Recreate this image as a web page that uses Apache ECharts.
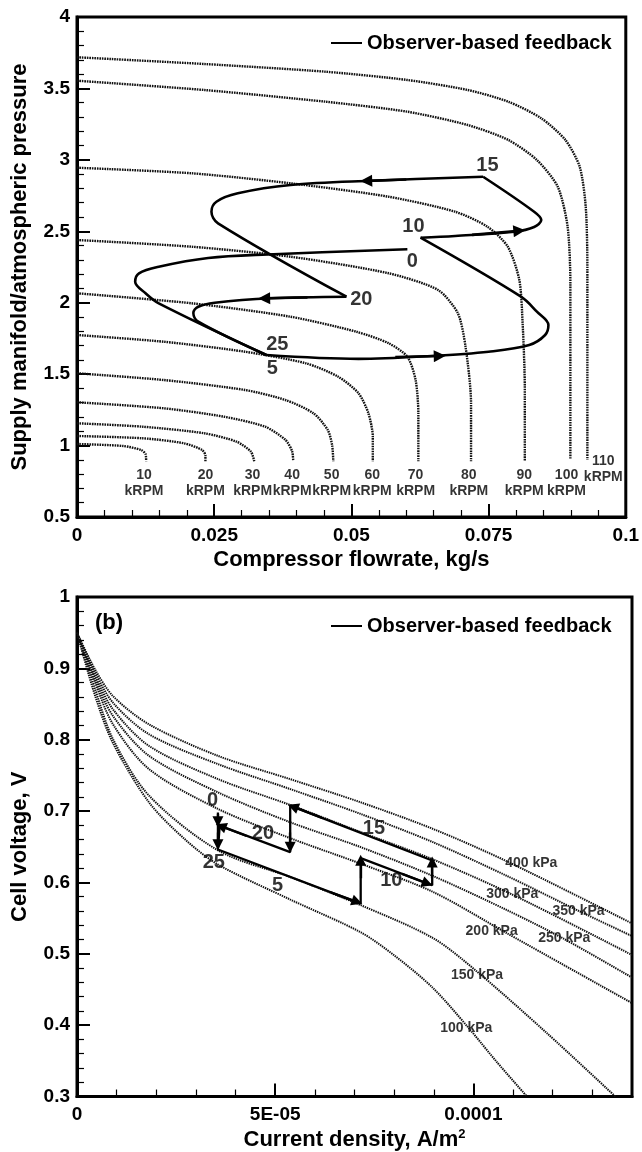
<!DOCTYPE html>
<html>
<head>
<meta charset="utf-8">
<title>Compressor map / polarization curves</title>
<script src="https://cdn.jsdelivr.net/npm/echarts/dist/echarts.min.js"></script>
<style>
  html, body { margin: 0; padding: 0; background: #fff; }
  #main { width: 642px; height: 1152px; }
</style>
</head>
<body>
<div id="main"></div>
<script>
// ---------- (a) compressor map ----------
// speed lines, kRPM
const speeds = [10, 20, 30, 40, 50, 60, 70, 80, 90, 100, 110];
// flow (kg/s) and pressure ratio
const speedFlow = [
  [0, 0.0084, 0.0117, 0.0125, 0.0126],
  [0, 0.012, 0.0195, 0.0228, 0.0234, 0.0234],
  [0, 0.012, 0.0232, 0.0291, 0.0317, 0.0323],
  [0, 0.0158, 0.0268, 0.0343, 0.038, 0.0392, 0.0394],
  [0, 0.0158, 0.0306, 0.038, 0.0431, 0.0457, 0.0465, 0.0467],
  [0, 0.0158, 0.0306, 0.0417, 0.0476, 0.0513, 0.0531, 0.0539, 0.0539],
  [0, 0.0209, 0.0389, 0.0509, 0.0568, 0.0602, 0.0617, 0.0622, 0.0622],
  [0, 0.0209, 0.0389, 0.0568, 0.0658, 0.0694, 0.0708, 0.0718, 0.0718],
  [0, 0.0209, 0.0389, 0.0568, 0.0689, 0.0748, 0.0785, 0.0806, 0.0812, 0.0816, 0.0816],
  [0, 0.0232, 0.0453, 0.0602, 0.0712, 0.0786, 0.0838, 0.0876, 0.0894, 0.0899, 0.0899],
  [0, 0.0232, 0.0453, 0.0602, 0.0712, 0.0786, 0.0846, 0.089, 0.0916, 0.0927, 0.093, 0.093]
];
const speedPressure = [
  [1.011, 0.997, 0.969, 0.94, 0.89],
  [1.067, 1.051, 1.016, 0.969, 0.93, 0.89],
  [1.156, 1.132, 1.086, 1.027, 0.957, 0.89],
  [1.303, 1.261, 1.202, 1.132, 1.039, 0.96, 0.89],
  [1.506, 1.459, 1.389, 1.319, 1.226, 1.109, 1.0, 0.89],
  [1.774, 1.727, 1.657, 1.576, 1.482, 1.366, 1.226, 1.062, 0.89],
  [2.066, 1.996, 1.902, 1.797, 1.716, 1.622, 1.459, 1.226, 0.89],
  [2.439, 2.392, 2.322, 2.206, 2.089, 1.926, 1.692, 1.3, 0.89],
  [2.945, 2.906, 2.836, 2.742, 2.637, 2.532, 2.392, 2.159, 1.856, 1.4, 0.89],
  [3.554, 3.489, 3.407, 3.337, 3.244, 3.139, 2.999, 2.812, 2.532, 2.137, 0.9],
  [3.718, 3.671, 3.617, 3.559, 3.489, 3.407, 3.291, 3.139, 2.952, 2.672, 2.252, 0.9]
];
const speedLabelFlow = [0.0122, 0.0234, 0.032, 0.0392, 0.0464, 0.0538, 0.0617, 0.0714, 0.0815, 0.0892, 0.0959];
const speedLabelPressure = [0.738, 0.738, 0.738, 0.738, 0.738, 0.738, 0.738, 0.738, 0.738, 0.738, 0.836];

// observer-based feedback trajectory, split at the time marks (s)
const trajAFlow = [
  [0.0602, 0.0347, 0.0239, 0.0149, 0.0113, 0.0106, 0.0125, 0.0149, 0.0345],
  [0.0345, 0.0513, 0.0646, 0.075, 0.0824, 0.0853, 0.0859, 0.0838, 0.0809, 0.0626],
  [0.0626, 0.0689, 0.0797, 0.0833, 0.0846, 0.0833, 0.074],
  [0.074, 0.0539, 0.0389, 0.0293, 0.0254, 0.0245, 0.0257, 0.0491],
  [0.0491, 0.0353, 0.0251, 0.0221, 0.0212, 0.0221, 0.0345]
];
const trajAPressure = [
  [2.374, 2.338, 2.313, 2.252, 2.206, 2.147, 2.066, 1.996, 1.634],
  [1.634, 1.607, 1.627, 1.657, 1.704, 1.774, 1.844, 1.937, 2.042, 2.455],
  [2.455, 2.467, 2.497, 2.53, 2.579, 2.637, 2.882],
  [2.882, 2.854, 2.824, 2.766, 2.707, 2.637, 2.556, 2.042],
  [2.042, 2.031, 2.0, 1.972, 1.928, 1.867, 1.634]
];
// arrow heads: [tailFlow, tailPressure, tipFlow, tipPressure]
const arrowsA = [
  [0.0600, 2.862, 0.0527, 2.853],
  [0.0420, 2.037, 0.0341, 2.031],
  [0.0580, 1.620, 0.0661, 1.627],
  [0.0720, 2.475, 0.0806, 2.504]
];
const timeLabelsA = ['0', '5', '10', '15', '20', '25'];
const timeLabelAFlow = [0.0611, 0.0356, 0.0613, 0.0748, 0.0518, 0.0365];
const timeLabelAPressure = [2.287, 1.543, 2.537, 2.964, 2.026, 1.711];

// ---------- (b) polarization curves ----------
// current density in units of 1e-5 A/m^2
const pressures = [100, 150, 200, 250, 300, 350, 400];
const curveCurrent = [
  [0, 0.46, 0.91, 1.82, 2.73, 3.56, 5.38, 7.16, 8.02, 8.98, 9.85, 10.58, 11.35],
  [0, 0.46, 0.91, 1.82, 3.56, 5.38, 7.16, 8.98, 10.07, 11.85, 13.58],
  [0, 0.46, 0.91, 1.82, 3.56, 5.38, 7.16, 8.98, 10.85, 14],
  [0, 0.46, 0.91, 1.82, 3.56, 5.38, 7.16, 8.98, 10.85, 12.26, 14],
  [0, 0.46, 0.91, 1.82, 3.56, 5.38, 7.16, 8.98, 10.98, 14],
  [0, 0.46, 0.91, 1.82, 3.56, 5.38, 7.16, 8.98, 10.85, 12.67, 14],
  [0, 0.46, 0.91, 1.82, 3.56, 5.38, 7.16, 8.98, 10.85, 14]
];
const curveVoltage = [
  [0.95, 0.861, 0.795, 0.712, 0.66, 0.625, 0.576, 0.53, 0.497, 0.452, 0.398, 0.349, 0.3],
  [0.95, 0.8703, 0.8005, 0.7215, 0.6448, 0.6076, 0.5681, 0.522, 0.476, 0.389, 0.3],
  [0.95, 0.8796, 0.8214, 0.7587, 0.7029, 0.662, 0.6262, 0.5867, 0.5286, 0.4309],
  [0.95, 0.8842, 0.8331, 0.7773, 0.7261, 0.6843, 0.6494, 0.609, 0.5611, 0.5216, 0.4667],
  [0.95, 0.8889, 0.8424, 0.7912, 0.7447, 0.7085, 0.6704, 0.6322, 0.583, 0.4983],
  [0.95, 0.8935, 0.8517, 0.8075, 0.7657, 0.7308, 0.6959, 0.6564, 0.609, 0.5597, 0.5248],
  [0.95, 0.898, 0.861, 0.8214, 0.7773, 0.7447, 0.7122, 0.675, 0.6294, 0.5425]
];
const pressureLabelCurrent = [9.82, 10.09, 10.46, 12.29, 10.98, 12.65, 11.46];
const pressureLabelVoltage = [0.3951, 0.4705, 0.5318, 0.5216, 0.583, 0.5597, 0.6276];

// trajectory B (operating points in order)
const trajBCurrent = [3.555, 3.555, 7.156, 7.156, 8.96, 8.96, 5.378, 5.378, 3.60, 3.555];
const trajBVoltage = [0.698, 0.6462, 0.5704, 0.6341, 0.596, 0.6308, 0.7076, 0.6425, 0.6797, 0.6462];
const arrowsB = [
  [3.555, 0.696, 3.555, 0.6852],
  [6.40, 0.586, 7.065, 0.5727],
  [7.156, 0.606, 7.156, 0.631],
  [8.20, 0.612, 8.84, 0.5983],
  [8.96, 0.606, 8.96, 0.6285],
  [6.20, 0.690, 5.45, 0.7062],
  [5.378, 0.670, 5.378, 0.6494],
  [4.28, 0.665, 3.63, 0.6787],
  [3.555, 0.670, 3.555, 0.6527]
];
const timeLabelsB = ['0', '5', '10', '15', '20', '25'];
const timeLabelBCurrent = [3.42, 5.06, 7.93, 7.49, 4.69, 3.45];
const timeLabelBVoltage = [0.7145, 0.596, 0.603, 0.676, 0.668, 0.6285];

const currentTickValues = [0, 5, 10];
const currentTickText = ['0', '5E-05', '0.0001'];

// ---------- chart ----------
const FONT = '"Liberation Sans", Arial, sans-serif';
const LEGEND_NAME = 'Observer-based feedback';

function zip(xs, ys) { return xs.map((x, i) => [x, ys[i]]); }

function axisStyle(extra) {
  return Object.assign({
    nameLocation: 'middle',
    axisLine: { show: true, onZero: false, lineStyle: { color: '#000', width: 3 } },
    axisTick: { show: true, inside: true, length: 13, lineStyle: { color: '#000', width: 2 } },
    minorTick: { show: true, splitNumber: 5, length: 7, lineStyle: { color: '#000', width: 1.2 } },
    splitLine: { show: false },
    axisLabel: { color: '#000', fontSize: 19, fontWeight: 'bold', fontFamily: FONT },
    nameTextStyle: { color: '#000', fontSize: 22, fontWeight: 'bold', fontFamily: FONT }
  }, extra);
}

const dotted = { color: '#111', width: 2.4, type: [1.6, 0.9] };
const series = [];

speeds.forEach((s, i) => {
  series.push({
    type: 'line', xAxisIndex: 0, yAxisIndex: 0, silent: true,
    symbol: 'none', smooth: 0.25,
    lineStyle: dotted,
    data: zip(speedFlow[i], speedPressure[i])
  });
});
series.push({
  type: 'scatter', xAxisIndex: 0, yAxisIndex: 0, silent: true, symbolSize: 0,
  label: { show: true, position: 'inside', color: '#000', fontSize: 14, fontWeight: 'bold',
    fontFamily: FONT, lineHeight: 16, formatter: p => p.data.name },
  data: speeds.map((s, i) => ({ name: s + '\nkRPM', value: [speedLabelFlow[i], speedLabelPressure[i]] }))
});
trajAFlow.forEach((xs, i) => {
  series.push({
    name: LEGEND_NAME, type: 'line', xAxisIndex: 0, yAxisIndex: 0, silent: true,
    symbol: 'none', smooth: 0.35, z: 5,
    itemStyle: { color: '#000' },
    lineStyle: { color: '#000', width: 2.6 },
    data: zip(xs, trajAPressure[i])
  });
});
series.push({
  type: 'lines', coordinateSystem: 'cartesian2d', xAxisIndex: 0, yAxisIndex: 0, silent: true,
  symbol: ['none', 'triangle'], symbolSize: 12, z: 6,
  lineStyle: { color: '#000', width: 2.6, opacity: 1 },
  data: arrowsA.map(a => ({ coords: [[a[0], a[1]], [a[2], a[3]]] }))
});
series.push({
  type: 'scatter', xAxisIndex: 0, yAxisIndex: 0, silent: true, symbolSize: 0,
  label: { show: true, position: 'inside', color: '#000', fontSize: 20, fontWeight: 'bold',
    fontFamily: FONT, formatter: p => p.data.name },
  data: timeLabelsA.map((t, i) => ({ name: t, value: [timeLabelAFlow[i], timeLabelAPressure[i]] }))
});

pressures.forEach((p, i) => {
  series.push({
    type: 'line', xAxisIndex: 1, yAxisIndex: 1, silent: true,
    symbol: 'none', smooth: 0.3,
    lineStyle: { color: '#111', width: 2, type: [1.4, 0.9] },
    data: zip(curveCurrent[i], curveVoltage[i])
  });
});
series.push({
  type: 'scatter', xAxisIndex: 1, yAxisIndex: 1, silent: true, symbolSize: 0,
  label: { show: true, position: 'inside', color: '#000', fontSize: 14, fontWeight: 'bold',
    fontFamily: FONT, formatter: p => p.data.name },
  data: pressures.map((p, i) => ({ name: p + ' kPa', value: [pressureLabelCurrent[i], pressureLabelVoltage[i]] }))
});
series.push({
  name: LEGEND_NAME, type: 'line', xAxisIndex: 1, yAxisIndex: 1, silent: true,
  symbol: 'none', z: 5,
  itemStyle: { color: '#000' },
  lineStyle: { color: '#000', width: 2.3 },
  data: zip(trajBCurrent, trajBVoltage)
});
series.push({
  type: 'lines', coordinateSystem: 'cartesian2d', xAxisIndex: 1, yAxisIndex: 1, silent: true,
  symbol: ['none', 'triangle'], symbolSize: 11, z: 6,
  lineStyle: { color: '#000', width: 2.3, opacity: 1 },
  data: arrowsB.map(a => ({ coords: [[a[0], a[1]], [a[2], a[3]]] }))
});
series.push({
  type: 'scatter', xAxisIndex: 1, yAxisIndex: 1, silent: true, symbolSize: 0,
  label: { show: true, position: 'inside', color: '#000', fontSize: 20, fontWeight: 'bold',
    fontFamily: FONT, formatter: p => p.data.name },
  data: timeLabelsB.map((t, i) => ({ name: t, value: [timeLabelBCurrent[i], timeLabelBVoltage[i]] }))
});

const legendStyle = {
  data: [LEGEND_NAME], left: 326, icon: 'rect', itemWidth: 31, itemHeight: 2,
  selectedMode: false,
  textStyle: { color: '#000', fontSize: 20, fontWeight: 'bold', fontFamily: FONT }
};

const option = {
  animation: false,
  backgroundColor: '#fff',
  color: ['#000'],
  grid: [
    { left: 77, top: 17, width: 555, height: 500, show: true, borderColor: '#000', borderWidth: 3 },
    { left: 77, top: 597, width: 555, height: 502, show: true, borderColor: '#000', borderWidth: 3 }
  ],
  legend: [
    Object.assign({ top: 28 }, legendStyle),
    Object.assign({ top: 611 }, legendStyle)
  ],
  xAxis: [
    axisStyle({
      gridIndex: 0, type: 'value', min: 0, max: 0.1, interval: 0.025,
      name: 'Compressor flowrate, kg/s', nameGap: 32,
      axisLabel: { color: '#000', fontSize: 19, fontWeight: 'bold', fontFamily: FONT, margin: 9 }
    }),
    axisStyle({
      gridIndex: 1, type: 'value', min: 0, max: 14, interval: 5,
      name: 'Current density, A/m{sup|2}', nameGap: 31,
      nameTextStyle: { color: '#000', fontSize: 22, fontWeight: 'bold', fontFamily: FONT,
        rich: { sup: { fontSize: 13, fontWeight: 'bold', fontFamily: FONT, color: '#000', verticalAlign: 'top', padding: [0, 0, 12, 0] } } },
      axisLabel: { color: '#000', fontSize: 19, fontWeight: 'bold', fontFamily: FONT, margin: 9,
        formatter: v => {
          const k = currentTickValues.indexOf(Math.round(v));
          return k >= 0 ? currentTickText[k] : '';
        } }
    })
  ],
  yAxis: [
    axisStyle({
      gridIndex: 0, type: 'value', min: 0.5, max: 4, interval: 0.5,
      name: 'Supply manifold/atmospheric pressure', nameGap: 46,
      axisLabel: { color: '#000', fontSize: 19, fontWeight: 'bold', fontFamily: FONT, margin: 7 }
    }),
    axisStyle({
      gridIndex: 1, type: 'value', min: 0.3, max: 1, interval: 0.1,
      name: 'Cell voltage, V', nameGap: 46,
      axisLabel: { color: '#000', fontSize: 19, fontWeight: 'bold', fontFamily: FONT, margin: 7,
        formatter: v => String(Math.round(v * 10) / 10) }
    })
  ],
  graphic: [
    { type: 'text', left: 95, top: 612, silent: true,
      style: { text: '(b)', fill: '#000', font: 'bold 22px "Liberation Sans", Arial, sans-serif' } }
  ],
  series: series
};

const chart = echarts.init(document.getElementById('main'));
chart.setOption(option);
</script>
</body>
</html>
